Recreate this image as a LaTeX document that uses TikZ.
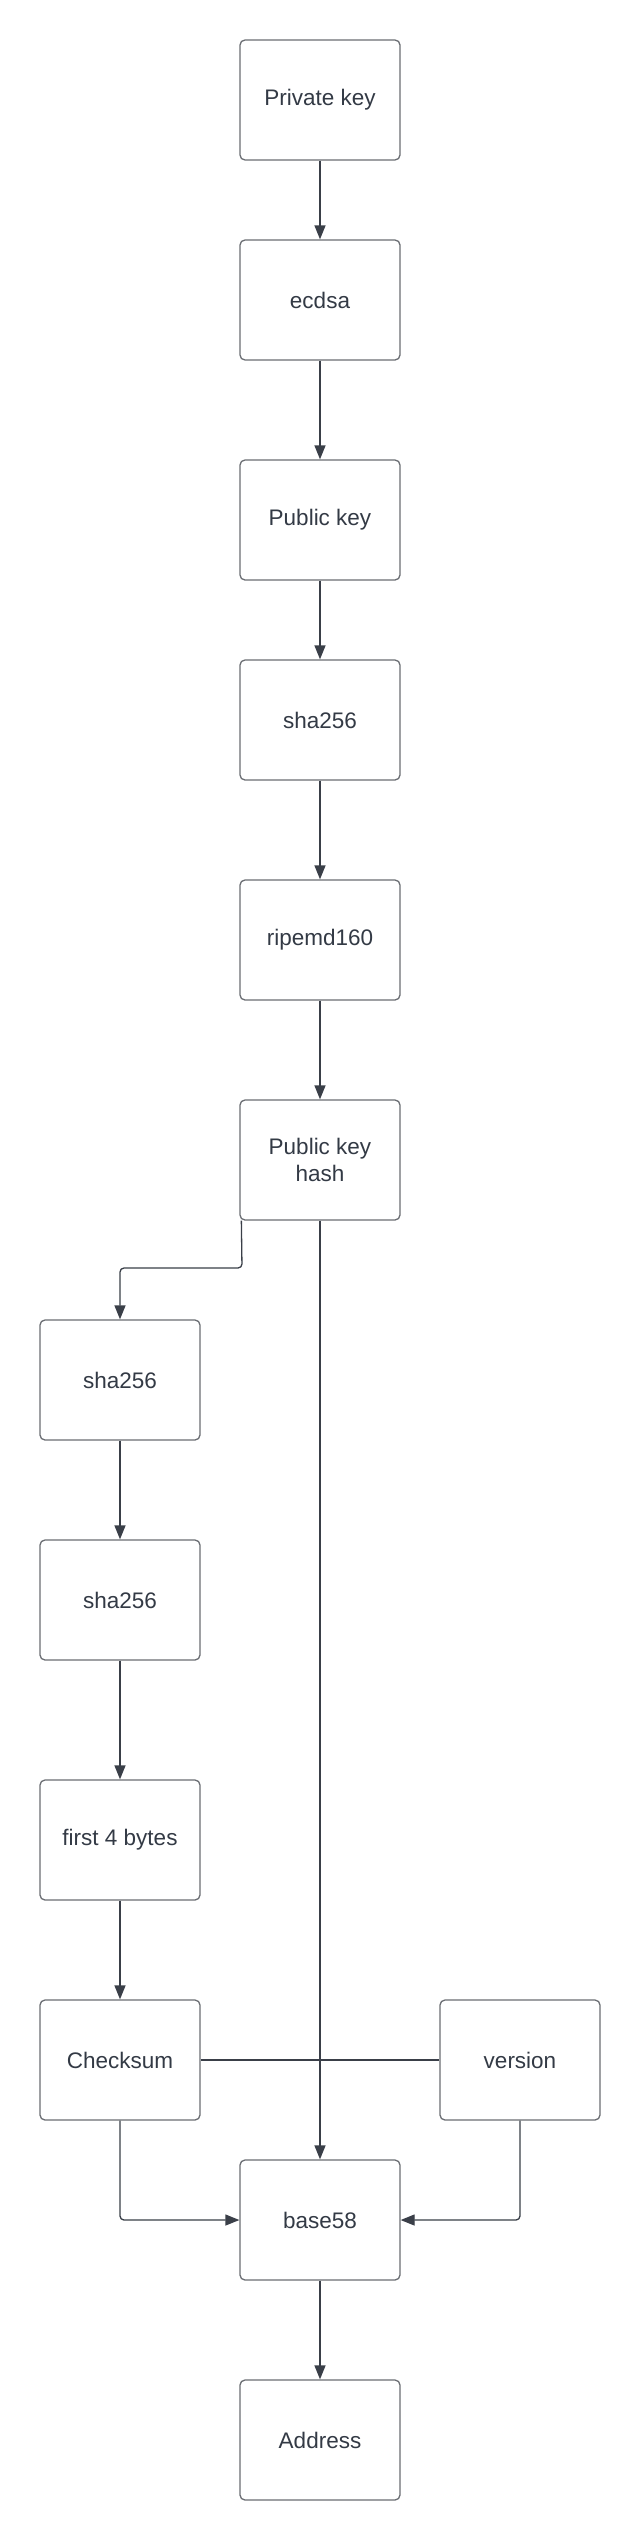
\documentclass[tikz,border=0pt]{standalone}
\usepackage{fontspec}
\setmainfont{Liberation Sans}
\usetikzlibrary{arrows.meta,calc}
\definecolor{boxline}{HTML}{6B6E73}
\definecolor{conn}{HTML}{3A3F48}
\definecolor{txt}{HTML}{333A45}
\begin{document}
\begin{tikzpicture}[x=1pt,y=-1pt,
  box/.style={draw=boxline,line width=1.3pt,rounded corners=5pt,minimum width=160pt,minimum height=120pt,inner sep=0pt,align=center,text=txt,font=\fontsize{22.5}{27}\selectfont,fill=white},
  conn/.style={draw=conn,line width=1.3pt,-{Triangle[length=14pt,width=11pt]}},
  plain/.style={draw=conn,line width=1.3pt}]
\useasboundingbox[fill=white] (0,0) rectangle (640,2540);
\node[box] (priv) at (320,100) {Private key};
\node[box] (ecdsa) at (320,300) {ecdsa};
\node[box] (pub) at (320,520) {Public key};
\node[box] (sha) at (320,720) {sha256};
\node[box] (ripe) at (320,940) {ripemd160};
\node[box] (pkh) at (320,1160) {Public key\\hash};
\node[box] (shaa) at (120,1380) {sha256};
\node[box] (shab) at (120,1600) {sha256};
\node[box] (first) at (120,1840) {first 4 bytes};
\node[box] (check) at (120,2060) {Checksum};
\node[box] (ver) at (520,2060) {version};
\node[box] (b58) at (320,2220) {base58};
\node[box] (addr) at (320,2440) {Address};
\draw[conn] (priv) -- (ecdsa);
\draw[conn] (ecdsa) -- (pub);
\draw[conn] (pub) -- (sha);
\draw[conn] (sha) -- (ripe);
\draw[conn] (ripe) -- (pkh);
\coordinate (pkhout) at ($(pkh.south west)+(2,0)$);
\draw[conn,rounded corners=4pt] (pkhout) -- (242,1268) -- (120,1268) -- (shaa.north);
\draw[conn] (shaa) -- (shab);
\draw[conn] (shab) -- (first);
\draw[conn] (first) -- (check);
\draw[plain] (check.east) -- (ver.west);
\draw[conn] (pkh.south) -- (b58.north);
\draw[conn,rounded corners=4pt] (check.south) |- (b58.west);
\draw[conn,rounded corners=4pt] (ver.south) |- (b58.east);
\draw[conn] (b58) -- (addr);
\end{tikzpicture}
\end{document}
